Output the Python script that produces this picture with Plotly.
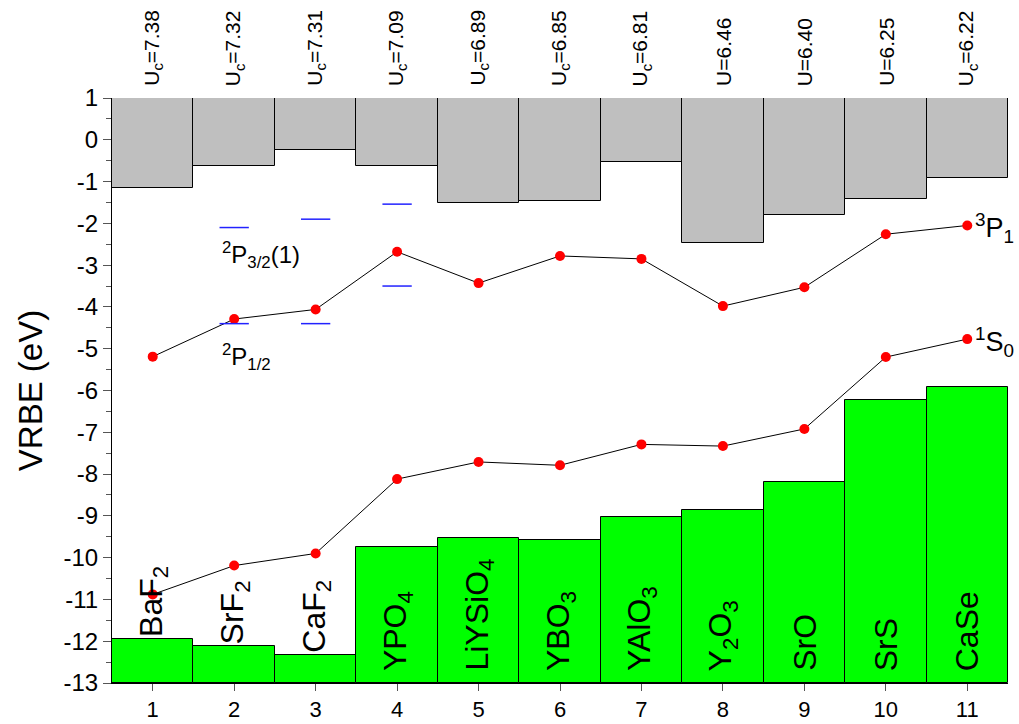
import plotly.graph_objects as go

# Host lattices along the x axis
positions = [1, 2, 3, 4, 5, 6, 7, 8, 9, 10, 11]
hosts = ["BaF<sub>2</sub>", "SrF<sub>2</sub>", "CaF<sub>2</sub>", "YPO<sub>4</sub>",
         "LiYSiO<sub>4</sub>", "YBO<sub>3</sub>", "YAlO<sub>3</sub>", "Y<sub>2</sub>O<sub>3</sub>",
         "SrO", "SrS", "CaSe"]
u_labels = ["U<sub>c</sub>=7.38", "U<sub>c</sub>=7.32", "U<sub>c</sub>=7.31", "U<sub>c</sub>=7.09",
            "U<sub>c</sub>=6.89", "U<sub>c</sub>=6.85", "U<sub>c</sub>=6.81", "U=6.46",
            "U=6.40", "U=6.25", "U<sub>c</sub>=6.22"]

# Band edges (eV, vacuum referred)
conduction_bottom = [-1.16, -0.63, -0.25, -0.63, -1.52, -1.47, -0.53, -2.46, -1.81, -1.42, -0.91]
valence_top = [-11.94, -12.12, -12.32, -9.75, -9.52, -9.57, -9.03, -8.86, -8.18, -6.22, -5.91]

# Ground and excited state levels
level_3p1 = [-5.19, -4.29, -4.06, -2.68, -3.43, -2.78, -2.85, -3.98, -3.53, -2.26, -2.05]
level_1s0 = [-10.88, -10.19, -9.90, -8.12, -7.71, -7.79, -7.29, -7.33, -6.92, -5.20, -4.77]

# Split 2P levels for the first hosts
p_positions = [2, 3, 4]
level_2p32 = [-2.10, -1.90, -1.54]
level_2p12 = [-4.40, -4.40, -3.50]

# y axis ticks, written with a plain hyphen
y_ticks = list(range(1, -14, -1))
y_ticktext = [str(v) for v in y_ticks]

y_top = 1
y_bottom = -13
FONT = "Liberation Sans, Arial, Helvetica, sans-serif"

fig = go.Figure()

fig.add_trace(go.Bar(
    x=positions, base=conduction_bottom,
    y=[y_top - v for v in conduction_bottom],
    width=1, marker=dict(color="#bfbfbf", line=dict(color="black", width=1)),
    showlegend=False, hoverinfo="skip"))

fig.add_trace(go.Bar(
    x=positions, base=[y_bottom] * len(positions),
    y=[v - y_bottom for v in valence_top],
    width=1, marker=dict(color="#00ff00", line=dict(color="black", width=1)),
    showlegend=False, hoverinfo="skip"))

for series in (level_3p1, level_1s0):
    fig.add_trace(go.Scatter(
        x=positions, y=series, mode="lines+markers",
        line=dict(color="black", width=1),
        marker=dict(color="red", size=10),
        showlegend=False, hoverinfo="skip"))

# short horizontal bars for the 2P levels
half = 0.18
for series in (level_2p32, level_2p12):
    xs, ys = [], []
    for xp, yv in zip(p_positions, series):
        xs += [xp - half, xp + half, None]
        ys += [yv, yv, None]
    fig.add_trace(go.Scatter(
        x=xs, y=ys, mode="lines", line=dict(color="#2222ff", width=1.5),
        showlegend=False, hoverinfo="skip"))

annotations = []
for xp, txt in zip(positions, u_labels):
    annotations.append(dict(
        x=xp, y=y_top, text=txt, textangle=-90, showarrow=False,
        xanchor="center", yanchor="bottom", yshift=10,
        font=dict(size=21, color="black", family=FONT)))

for i, (xp, txt) in enumerate(zip(positions, hosts)):
    if i < 3:
        ybase, shift = valence_top[i], 0
    else:
        ybase, shift = y_bottom, 10
    annotations.append(dict(
        x=xp, y=ybase, text=txt, textangle=-90, showarrow=False,
        xanchor="center", yanchor="bottom", yshift=shift,
        font=dict(size=32, color="black", family=FONT)))

annotations += [
    dict(x=1.83, y=-2.75, text="<sup>2</sup>P<sub>3/2</sub>(1)", showarrow=False,
         xanchor="left", yanchor="middle", font=dict(size=24, color="black", family=FONT)),
    dict(x=1.83, y=-5.2, text="<sup>2</sup>P<sub>1/2</sub>", showarrow=False,
         xanchor="left", yanchor="middle", font=dict(size=24, color="black", family=FONT)),
    dict(x=11.07, y=-2.1, text="<sup>3</sup>P<sub>1</sub>", showarrow=False,
         xanchor="left", yanchor="middle", font=dict(size=27, color="black", family=FONT)),
    dict(x=11.07, y=-4.85, text="<sup>1</sup>S<sub>0</sub>", showarrow=False,
         xanchor="left", yanchor="middle", font=dict(size=27, color="black", family=FONT)),
]

fig.update_layout(
    width=1019, height=724,
    margin=dict(l=112, r=11, t=98, b=41),
    paper_bgcolor="white", plot_bgcolor="white",
    barmode="overlay", bargap=0,
    font=dict(family=FONT, color="black"),
    annotations=annotations,
    xaxis=dict(range=[0.5, 11.5], tickmode="array", tickvals=positions,
               ticks="outside", ticklen=7, tickcolor="#555", showline=True,
               linecolor="black", linewidth=1, showgrid=False, zeroline=False,
               automargin=False, tickfont=dict(size=22, family=FONT)),
    yaxis=dict(range=[y_bottom, y_top], tickmode="array", tickvals=y_ticks,
               ticktext=y_ticktext, ticks="outside", ticklen=8,
               tickcolor="#555", showline=True, linecolor="black", linewidth=1,
               showgrid=False, zeroline=False, automargin=False,
               minor=dict(dtick=0.5, ticks="outside", ticklen=5, tickcolor="#555"),
               tickfont=dict(size=24, family=FONT),
               title=dict(text="VRBE (eV)", font=dict(size=33, family=FONT), standoff=10)),
)

fig.write_html("out.html")
